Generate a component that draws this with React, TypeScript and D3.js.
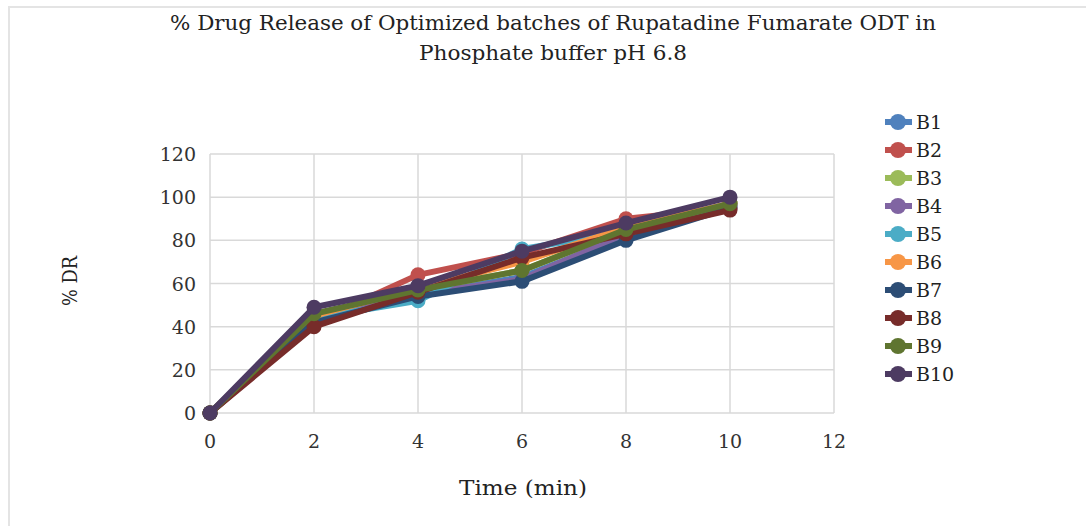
import React from "react";
import * as d3 from "d3";

const times = [0, 2, 4, 6, 8, 10];
const seriesNames = ["B1", "B2", "B3", "B4", "B5", "B6", "B7", "B8", "B9", "B10"];
const B1 = [0, 44, 55, 63, 82, 96];
const B2 = [0, 42, 64, 74, 90, 95];
const B3 = [0, 45, 57, 66, 85, 97];
const B4 = [0, 43, 55, 62, 83, 96];
const B5 = [0, 44, 52, 76, 84, 97];
const B6 = [0, 45, 58, 70, 86, 97];
const B7 = [0, 42, 54, 61, 80, 95];
const B8 = [0, 40, 56, 72, 83, 94];
const B9 = [0, 46, 57, 66, 85, 97];
const B10 = [0, 49, 59, 75, 88, 100];
const seriesValues = [B1, B2, B3, B4, B5, B6, B7, B8, B9, B10];
const colors = ["#4F81BD", "#C0504D", "#9BBB59", "#8064A2", "#4BACC6", "#F79646", "#2C4D75", "#772C2A", "#5F7530", "#4D3B62"];
const xTicks = [0, 2, 4, 6, 8, 10, 12];
const yTicks = [0, 20, 40, 60, 80, 100, 120];
const titleLines = ["% Drug Release of Optimized batches of Rupatadine Fumarate ODT in", "Phosphate buffer pH 6.8"];

const FONT = "'DejaVu Serif', 'Liberation Serif', serif";

export default function App() {
  const x = d3.scaleLinear().domain([0, 12]).range([210, 834]);
  const y = d3.scaleLinear().domain([0, 120]).range([413, 154]);
  const line = d3.line<number>().x((_, i) => x(times[i])).y((d) => y(d));

  return (
    <svg width={1086} height={526} style={{ position: "absolute", left: 0, top: 0, background: "#fff" }}>
      <rect x={9} y={7} width={1200} height={700} fill="#fff" stroke="#e4e4e4" strokeWidth={2} />
      <text x={553} y={30} textAnchor="middle" fontFamily={FONT} fontSize={20} fill="#222" textLength={766} lengthAdjust="spacingAndGlyphs">
        {titleLines[0]}
      </text>
      <text x={553} y={60} textAnchor="middle" fontFamily={FONT} fontSize={20} fill="#222" textLength={268} lengthAdjust="spacingAndGlyphs">
        {titleLines[1]}
      </text>
      {yTicks.map((v) => (
        <line key={"h" + v} x1={x(0)} x2={x(12)} y1={y(v)} y2={y(v)} stroke="#d9d9d9" strokeWidth={1.5} />
      ))}
      {xTicks.map((v) => (
        <line key={"v" + v} x1={x(v)} x2={x(v)} y1={y(120)} y2={y(0)} stroke="#d9d9d9" strokeWidth={1.5} />
      ))}
      {yTicks.map((v) => (
        <text key={"yt" + v} x={196} y={y(v) + 7} textAnchor="end" fontFamily={FONT} fontSize={19} fill="#333">
          {v}
        </text>
      ))}
      {xTicks.map((v) => (
        <text key={"xt" + v} x={x(v)} y={448} textAnchor="middle" fontFamily={FONT} fontSize={19} fill="#333">
          {v}
        </text>
      ))}
      <text x={523} y={495} textAnchor="middle" fontFamily={FONT} fontSize={21} fill="#222" textLength={128} lengthAdjust="spacingAndGlyphs">
        Time (min)
      </text>
      <text transform="translate(77,281) rotate(-90)" textAnchor="middle" fontFamily={FONT} fontSize={20} fill="#222" textLength={50} lengthAdjust="spacingAndGlyphs">
        % DR
      </text>
      {seriesValues.map((vals, si) => (
        <g key={seriesNames[si]}>
          <path d={line(vals) || ""} fill="none" stroke={colors[si]} strokeWidth={6} strokeLinejoin="round" />
          {vals.map((v, i) => (
            <circle key={i} cx={x(times[i])} cy={y(v)} r={7.5} fill={colors[si]} />
          ))}
        </g>
      ))}
      {seriesNames.map((n, i) => {
        const ly = 122 + i * 28;
        return (
          <g key={"lg" + n}>
            <line x1={885} x2={912} y1={ly} y2={ly} stroke={colors[i]} strokeWidth={6} />
            <circle cx={898} cy={ly} r={8} fill={colors[i]} />
            <text x={916} y={ly + 7} fontFamily={FONT} fontSize={19} fill="#222">
              {n}
            </text>
          </g>
        );
      })}
    </svg>
  );
}
